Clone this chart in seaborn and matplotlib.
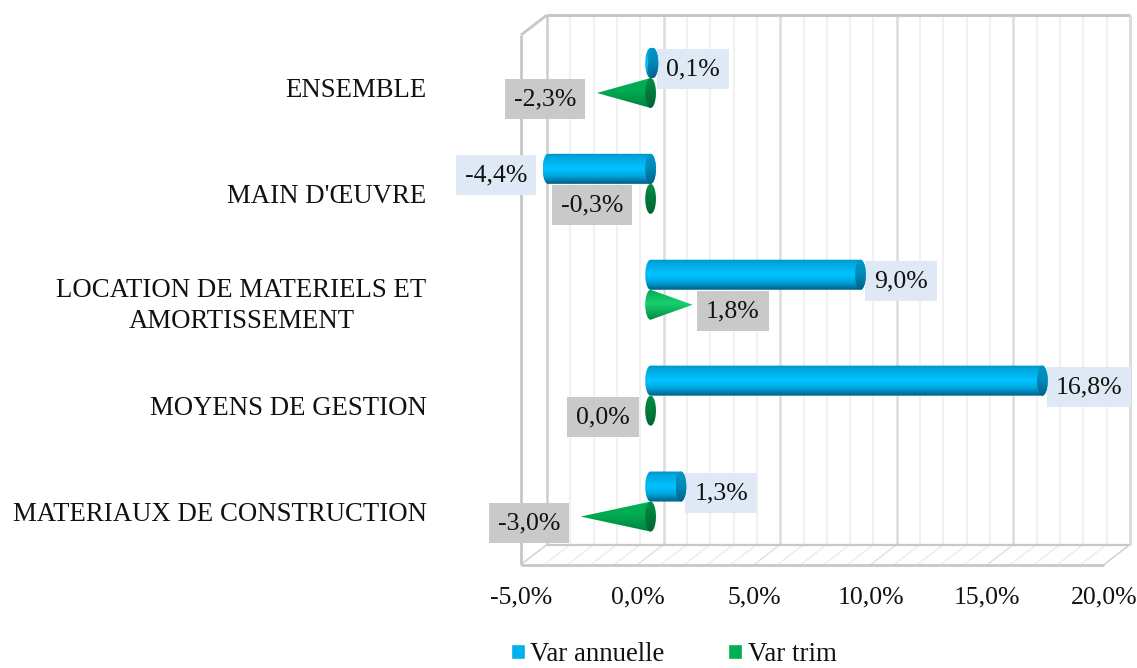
import numpy as np
import pandas as pd
import matplotlib
matplotlib.use("Agg")
import matplotlib.pyplot as plt
from matplotlib.patches import Polygon
from matplotlib.transforms import Affine2D
from matplotlib.colors import to_rgb
import seaborn as sns

categories = ["ENSEMBLE", "MAIN D'ŒUVRE", "LOCATION DE MATERIELS ET\nAMORTISSEMENT",
              "MOYENS DE GESTION", "MATERIAUX DE CONSTRUCTION"]
var_annuelle = [0.1, -4.4, 9.0, 16.8, 1.3]
var_trim = [-2.3, -0.3, 1.8, 0.0, -3.0]
series_names = ["Var annuelle", "Var trim"]
xticks = [-5, 0, 5, 10, 15, 20]
xticklabels = ["-5,0%", "0,0%", "5,0%", "10,0%", "15,0%", "20,0%"]

W, H = 1137, 668
BLUE, GREEN = "#00B0F0", "#00B050"
sns.set_style("white")
plt.rcParams["font.family"] = ["Liberation Serif", "DejaVu Serif"]

df = pd.DataFrame({
    "cat": categories * 2,
    "val": var_annuelle + var_trim,
    "series": [series_names[0]] * 5 + [series_names[1]] * 5,
})

fig = plt.figure(figsize=(W / 100, H / 100), dpi=100)
ax = fig.add_axes([534 / W, 1 - 554.5 / H, (1117 - 534) / W, (554.5 - 25) / H])
ax.patch.set_alpha(0)
sns.barplot(data=df, y="cat", x="val", hue="series", order=categories,
            palette=[BLUE, GREEN], width=0.567, gap=0, saturation=1, ax=ax, errorbar=None)
handles, labels = ax.get_legend_handles_labels()
ax.get_legend().remove()
ax.set_xlim(-5, 20)
ax.set_ylim(4.5, -0.5)
ax.set_autoscale_on(False)
ax.set_xlabel("")
ax.set_ylabel("")
sns.despine(ax=ax, left=True, bottom=True, top=True, right=True)

# ---- 3D-looking frame, drawn on offset planes of the same data axes
back = ax.transData + Affine2D().translate(13, 10)
front = ax.transData + Affine2D().translate(-13, -10)
MAJOR, MINOR, EDGE = "#DCDCDC", "#F1F1F1", "#C8C8C8"
yt, yb = -0.5, 4.5
kw = dict(clip_on=False, solid_capstyle="butt")
for t in np.arange(-5, 21):
    is_major = t % 5 == 0
    c = MAJOR if is_major else MINOR
    if t == -5:
        c = "#CDCDCD"
    ax.plot([t, t], [yt, yb], color=c, lw=1.8 if is_major else 1.5, transform=back, zorder=0.5, **kw)
    # floor lines joining the back and front edges
    p0 = back.transform((t, yb))
    p1 = front.transform((t, yb))
    ax.plot([p0[0], p1[0]], [p0[1], p1[1]],
            color="#EDEDED" if not is_major else "#E2E2E2" if t not in (-5, 20) else "#D0D0D0",
            lw=1.1, transform=None, zorder=0.5, **kw)
ax.plot([-5, 20], [yt, yt], color=EDGE, lw=2.2, transform=back, zorder=0.6, **kw)
ax.plot([-5, 20], [yb, yb], color=EDGE, lw=1.6, transform=back, zorder=0.6, **kw)
ax.plot([-5, 20], [yb, yb], color=EDGE, lw=2, transform=front, zorder=0.6, **kw)
ax.plot([-5, -5], [yt, yb], color=EDGE, lw=2, transform=front, zorder=0.6, **kw)
ax.plot([20, 20], [yt, yb], color="#DADADA", lw=1.8, transform=back, zorder=0.6, **kw)
p0 = back.transform((-5, yt))
p1 = front.transform((-5, yt))
ax.plot([p0[0], p1[0]], [p0[1], p1[1]], color=EDGE, lw=2, transform=None, zorder=0.6, **kw)


def ramp(stops):
    pos, cols = zip(*stops)
    rgb = np.array([to_rgb(c) for c in cols])
    y = np.linspace(0, 1, 64)
    return np.stack([np.interp(y, pos, rgb[:, i]) for i in range(3)], axis=1)[:, None, :]


BODY = ramp([(0, "#0093C8"), (0.14, "#00A8E0"), (0.5, "#00C3FF"), (0.75, "#00A4DC"), (1, "#005F86")])
CAP = ramp([(0, "#0098CC"), (0.5, "#0088BA"), (1, "#006288")])
CONE_NEG = ramp([(0, "#00B458"), (0.5, "#00A84F"), (1, "#008040")])
CONE_POS = ramp([(0, "#08A850"), (0.45, "#18D070"), (1, "#008A42")])
CONE_CAP = ramp([(0, "#009045"), (0.5, "#007A3B"), (1, "#006632")])

RX = 0.23  # half width of the elliptical ends, in data units
th = np.linspace(0, np.pi, 40)


def paint(img, poly, z):
    xy = poly.get_xy()
    im = ax.imshow(img, aspect="auto", interpolation="bilinear", zorder=z,
                   extent=(xy[:, 0].min(), xy[:, 0].max(), xy[:, 1].max(), xy[:, 1].min()))
    ax.add_patch(poly)
    poly.set_visible(False)
    im.set_clip_path(poly.get_path(), poly.get_transform())
    return im


def ellipse(xc, yc, ry):
    t = np.linspace(0, 2 * np.pi, 80)
    return Polygon(np.c_[xc + RX * np.cos(t), yc + ry * np.sin(t)], closed=True)


cont_a, cont_t = ax.containers[0], ax.containers[1]
for bar in cont_a:
    x, w = bar.get_x(), bar.get_width()
    l, r = min(x, x + w), max(x, x + w)
    yc = bar.get_y() + bar.get_height() / 2
    ry = bar.get_height() / 2
    pts = np.r_[np.c_[l - RX * np.sin(th), yc - ry * np.cos(th)],
                np.c_[r + RX * np.sin(th), yc + ry * np.cos(th)]]
    body = Polygon(pts, closed=True)
    bar.set_visible(False)
    paint(BODY, body, 3)
    paint(CAP, ellipse(r, yc, ry), 3.1)

for bar in cont_t:
    x, w = bar.get_x(), bar.get_width()
    v = x + w if x == 0 else x
    yc = bar.get_y() + bar.get_height() / 2
    ry = bar.get_height() / 2
    bar.set_visible(False)
    if v > 0:
        pts = np.r_[[[v, yc]], np.c_[-RX * np.sin(th), yc + ry * np.cos(th)]]
        paint(CONE_POS, Polygon(pts, closed=True), 3.2)
    else:
        if v < -0.5:
            pts = np.array([[v, yc], [0, yc - ry], [0, yc + ry]])
            paint(CONE_NEG, Polygon(pts, closed=True), 3.2)
        paint(CONE_CAP, ellipse(0, yc, ry), 3.3)

# ---- data labels
FS = 18.5
for cont, vals, bg in ((cont_a, var_annuelle, "#DEE9F5"), (cont_t, var_trim, "#C9C9C9")):
    for bar, v in zip(cont, vals):
        yc = bar.get_y() + bar.get_height() / 2
        txt = f"{v:.1f}%".replace(".", ",")
        if v > 0:
            dx, ha = 13.5, "left"
        else:
            dx, ha = -20.5, "right"
        ax.annotate(txt, xy=(v, yc), xytext=(dx * 0.72, -4 * 0.72), textcoords="offset points",
                    ha=ha, va="center_baseline", fontsize=FS, color="#111111", zorder=2.9,
                    bbox=dict(boxstyle="square,pad=0.35", fc=bg, ec="none"), annotation_clip=False)

# ---- axis text, moved onto the front plane
ax.set_xticks(xticks)
ax.set_xticklabels(xticklabels, fontsize=FS, color="#111111")
ax.set_yticks(range(len(categories)))
ax.set_yticklabels(categories, fontsize=19.3, color="#111111", ma="center", linespacing=1.32)
ax.tick_params(axis="both", length=0)
ax.tick_params(axis="x", pad=15)
ax.tick_params(axis="y", pad=68)
shift_x = Affine2D().translate(-13, -11)
shift_y = Affine2D().translate(-13, -10)
for lab in ax.get_xticklabels():
    lab.set_transform(lab.get_transform() + shift_x)
for lab in ax.get_yticklabels():
    lab.set_transform(lab.get_transform() + shift_y)
ax.grid(False)

fig.legend(handles, labels, loc="center", bbox_to_anchor=(673.5 / W, 1 - 654.5 / H), ncol=2,
           frameon=False, fontsize=19.4, handlelength=0.52, handleheight=0.52, handletextpad=0.2,
           columnspacing=2.37, borderpad=0, labelcolor="#111111")

ax.set_xlim(-5, 20)
ax.set_ylim(4.5, -0.5)
fig.savefig("out.png", dpi=100, facecolor="white")
